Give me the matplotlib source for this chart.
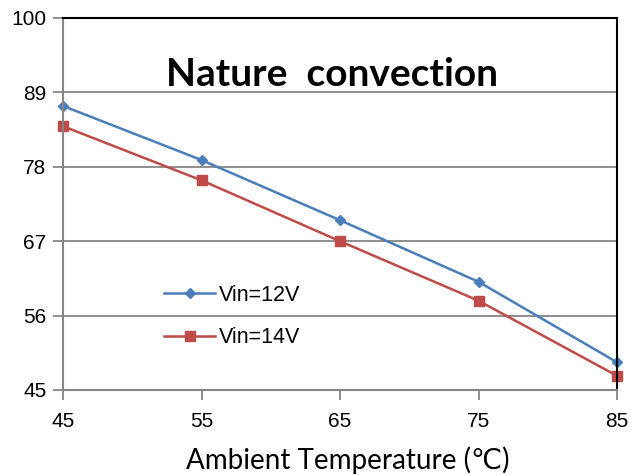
import matplotlib
matplotlib.use("Agg")
import matplotlib.pyplot as plt

temps = [45, 55, 65, 75, 85]
vin12 = [87.0, 79.0, 70.1, 61.0, 49.1]
vin14 = [84.0, 76.0, 67.0, 58.2, 47.1]
yticks = [45, 56, 67, 78, 89, 100]
series_labels = ["Vin=12V", "Vin=14V"]
title = "Nature  convection"
xlabel = "Ambient Temperature (\u2103)"

plt.rcParams['font.family'] = ['Liberation Sans', 'DejaVu Sans']

fig = plt.figure(figsize=(6.31, 4.75), dpi=100)
ax = fig.add_axes([63/631, 1-390/475, (617-63)/631, (390-18)/475])

ax.plot(temps, vin12, color="#4a7ebb", marker="D", markersize=5, lw=1.8, label=series_labels[0], clip_on=False)
ax.plot(temps, vin14, color="#be4b48", marker="s", markersize=6.5, lw=1.8, label=series_labels[1], clip_on=False)

ax.set_xlim(45, 85)
ax.set_ylim(45, 100)
ax.set_xticks(temps)
ax.set_yticks(yticks)
ax.grid(axis='y', color='#868686', lw=1.3)
ax.set_axisbelow(True)
for s in ['left', 'bottom']:
    ax.spines[s].set_color('#868686')
    ax.spines[s].set_linewidth(1.5)
for s in ['top', 'right']:
    ax.spines[s].set_color('black')
    ax.spines[s].set_linewidth(1.5)
ax.tick_params(axis='both', direction='out', length=7, width=1.3, color='#868686', labelsize=15)
ax.tick_params(axis='x', pad=9)
ax.tick_params(axis='y', pad=5)

ax.text(0.485, 0.848, title, transform=ax.transAxes, ha='center', va='center',
        fontsize=28, fontweight='bold', family=['Lato', 'DejaVu Sans'])

fig.text(348/631, 1-446/475, xlabel, ha='center', va='top', fontsize=20,
         family=['Lato', 'DejaVu Sans'])

leg = ax.legend(loc='upper left', bbox_to_anchor=(0.147, 0.335), frameon=False, fontsize=15.5,
                handlelength=2.4, labelspacing=1.0, handletextpad=0.15)

fig.savefig("out.png", dpi=100)
